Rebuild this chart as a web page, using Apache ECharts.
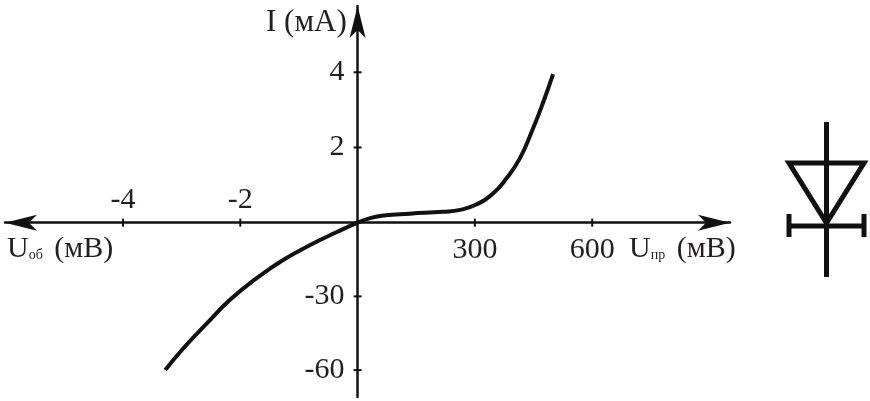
<!DOCTYPE html>
<html>
<head>
<meta charset="utf-8">
<title>I-V curve</title>
<style>
	html, body { margin: 0; padding: 0; background: #fff; }
	#chart { width: 870px; height: 401px; }
</style>
<script src="https://cdn.jsdelivr.net/npm/echarts@6/dist/echarts.min.js"></script>
</head>
<body>
<div id="chart"></div>
<script>
const forwardVoltage = [0, 32, 66, 134, 219, 262, 305, 347, 381, 415, 445, 475, 500];
const forwardCurrent = [0, 0.12, 0.19, 0.24, 0.29, 0.34, 0.49, 0.78, 1.18, 1.71, 2.41, 3.21, 3.95];
const reverseVoltage = [-3.28, -2.97, -2.57, -2.18, -1.72, -1.27, -0.81, -0.36];
const reverseCurrent = [-60, -51.1, -41, -31.5, -22.6, -15.2, -9.1, -3.9];

const forwardTicks = [300, 600];
const reverseTicks = [-2, -4];
const currentTicks = [4, 2, -30, -60];

const FONT = '"Liberation Serif", serif';
const INK = '#111';
const TEXT = '#231f20';
const TICK_FONT = 30;

// оси кусочные: слева и справа от нуля, сверху и снизу свой масштаб
const toX = (u) => (u >= 0 ? u / 300 : u / 2);
const fromX = (v) => Math.round(v >= 0 ? v * 300 : v * 2);
const toY = (i) => (i >= 0 ? i / 1.96 : i / 30);
const fromY = (v) => Math.round(v >= 0 ? v * 1.96 : v * 30);

const curve = reverseVoltage
	.map((u, k) => [toX(u), toY(reverseCurrent[k])])
	.concat(forwardVoltage.map((u, k) => [toX(u), toY(forwardCurrent[k])]));

function tickSeries(data, size, position, distance, formatter) {
	return {
		type: 'scatter',
		silent: true,
		symbol: 'rect',
		symbolSize: size,
		itemStyle: { color: INK, opacity: 1 },
		label: {
			show: true,
			position,
			distance,
			formatter,
			color: TEXT,
			fontFamily: FONT,
			fontSize: TICK_FONT
		},
		data
	};
}

function axisName(left, top, main, sub) {
	return {
		type: 'text',
		left,
		top,
		style: {
			text: sub ? `{m|${main}}{s|${sub}}{m| (мВ)}` : main,
			fill: TEXT,
			font: `31px ${FONT}`,
			rich: {
				m: { fontFamily: 'Liberation Serif', fontSize: 30, fill: TEXT, lineHeight: 34 },
				s: { fontFamily: 'Liberation Serif', fontSize: 14, fill: TEXT, padding: [12, 4, 0, 0] }
			}
		}
	};
}

function diodeLine(x1, y1, x2, y2) {
	return {
		type: 'line',
		shape: { x1, y1, x2, y2 },
		style: { stroke: INK, lineWidth: 5 }
	};
}

const xLabel = (p) => String(fromX(p.value[0]));
const yLabel = (p) => String(fromY(p.value[1]));

const option = {
	animation: false,
	backgroundColor: '#fff',
	grid: { left: 5, right: 140, top: 6, bottom: 4, outerBoundsMode: 'none' },
	xAxis: {
		type: 'value',
		min: -3.006,
		max: 3.175,
		splitLine: { show: false },
		axisLine: {
			onZero: true,
			symbol: ['arrow', 'arrow'],
			symbolSize: [12, 32],
			lineStyle: { color: INK, width: 2.5 }
		},
		axisTick: { show: false },
		axisLabel: { show: false }
	},
	yAxis: {
		type: 'value',
		min: -2.365,
		max: 2.94,
		splitLine: { show: false },
		axisLine: {
			onZero: true,
			symbol: ['none', 'arrow'],
			symbolSize: [12, 32],
			lineStyle: { color: INK, width: 2.5 }
		},
		axisTick: { show: false },
		axisLabel: { show: false }
	},
	series: [
		tickSeries(forwardTicks.map((u) => [toX(u), 0]), [2, 8], 'bottom', 8, xLabel),
		tickSeries(reverseTicks.map((u) => [toX(u), 0]), [2, 8], 'top', 4, xLabel),
		tickSeries(currentTicks.map((i) => [0, toY(i)]), [8, 2], 'left', 9, yLabel),
		{
			type: 'line',
			silent: true,
			smooth: 0.5,
			showSymbol: false,
			lineStyle: { color: INK, width: 4, cap: 'butt' },
			data: curve
		}
	],
	graphic: [
		axisName(266, 7, 'I (мА)'),
		axisName(7, 234, 'U', 'об'),
		axisName(629, 234, 'U', 'пр'),
		// условное обозначение диода
		diodeLine(826.5, 122, 826.5, 277),
		{
			type: 'polygon',
			shape: { points: [[789, 163], [864, 163], [826.5, 223]] },
			style: { fill: 'none', stroke: INK, lineWidth: 5 }
		},
		diodeLine(789, 226, 864, 226),
		diodeLine(789, 214, 789, 237),
		diodeLine(864, 214, 864, 237)
	]
};

echarts.init(document.getElementById('chart')).setOption(option);
</script>
</body>
</html>
